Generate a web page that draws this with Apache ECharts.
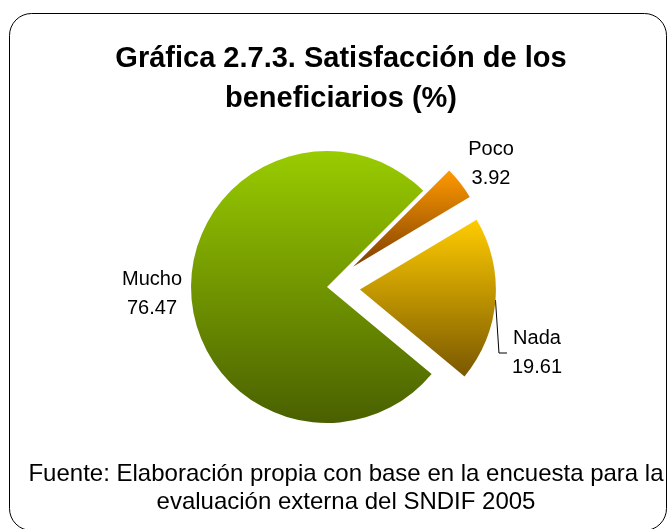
<!DOCTYPE html>
<html>
<head>
<meta charset="utf-8">
<script src="https://cdn.jsdelivr.net/npm/echarts@6/dist/echarts.min.js"></script>
<style>
  html, body { margin: 0; padding: 0; background: #fff; }
  #chart { width: 668px; height: 529px; }
</style>
</head>
<body>
<div id="chart"></div>
<script>
// datos de la gráfica
const categorias = ["Poco", "Nada", "Mucho"];
const valores = [3.92, 19.61, 76.47];
const separados = [true, true, false]; // rebanadas desplazadas

// colores degradados (arriba -> abajo)
const coloresArriba = ["#FF9900", "#FFCC00", "#99CC00"];
const coloresAbajo = ["#804000", "#7A5800", "#4A6000"];

// posición de las etiquetas (centro del texto)
const posEtiquetas = {
  Poco: [491, 164],
  Nada: [537, 353],
  Mucho: [152, 294],
};

const fuente = "'Liberation Sans', Arial, sans-serif";
const centro = [327, 287];
const radio = 136;
const anguloInicio = 45;
const desplazamiento = 33;

const chart = echarts.init(document.getElementById("chart"));

const total = valores.reduce(function (a, b) { return a + b; }, 0);

// una serie por rebanada, para poder separarla de las demás
let angulo = anguloInicio;
const series = categorias.map(function (nombre, i) {
  const arco = (valores[i] / total) * 360;
  const medio = ((angulo - arco / 2) * Math.PI) / 180;
  angulo -= arco;
  const d = separados[i] ? desplazamiento : 0;
  return {
    type: "pie",
    name: nombre,
    center: [centro[0] + d * Math.cos(medio), centro[1] - d * Math.sin(medio)],
    radius: radio,
    startAngle: anguloInicio,
    clockwise: true,
    emphasis: { disabled: true },
    label: {
      position: "outside",
      formatter: "{b}\n{c}",
      fontFamily: fuente,
      fontSize: 20,
      lineHeight: 29,
      color: "#000",
      align: "center",
    },
    labelLine: { length: 10, length2: 0, lineStyle: { color: "#000", width: 1 } },
    labelLayout: function (params) {
      const p = posEtiquetas[nombre];
      const out = { x: p[0], y: p[1], align: "center", verticalAlign: "middle" };
      if (nombre === "Nada" && params.labelLinePoints) {
        const anc = params.labelLinePoints[0];
        const izq = p[0] - params.labelRect.width / 2;
        out.labelLinePoints = [
          [anc[0], anc[1]],
          [izq - 13, p[1]],
          [izq - 5, p[1]],
        ];
      }
      return out;
    },
    data: categorias.map(function (c, j) {
      const visible = j === i;
      return {
        name: c,
        value: valores[j],
        silent: !visible,
        label: { show: visible },
        labelLine: { show: visible && c === "Nada" },
        itemStyle: {
          color: visible
            ? new echarts.graphic.LinearGradient(0, 0, 0, 1, [
                { offset: 0, color: coloresArriba[j] },
                { offset: 1, color: coloresAbajo[j] },
              ])
            : "rgba(0,0,0,0)",
        },
      };
    }),
  };
});

chart.setOption({
  animation: false,
  graphic: [
    {
      type: "rect",
      shape: { x: 9.5, y: 13.5, width: 657, height: 517, r: 22 },
      style: { fill: "none", stroke: "#000", lineWidth: 1 },
      silent: true,
    },
  ],
  title: [
    {
      text: "Gráfica 2.7.3. Satisfacción de los\nbeneficiarios (%)",
      left: 336,
      textAlign: "center",
      top: 34,
      textStyle: {
        fontFamily: fuente,
        fontSize: 29,
        fontWeight: "bold",
        lineHeight: 40,
        color: "#000",
      },
    },
    {
      text: "Fuente: Elaboración propia con base en la encuesta para la\nevaluación externa del SNDIF 2005",
      left: 341,
      textAlign: "center",
      top: 455,
      textStyle: {
        fontFamily: fuente,
        fontSize: 24,
        fontWeight: "normal",
        lineHeight: 28,
        color: "#000",
      },
    },
  ],
  series: series,
});
</script>
</body>
</html>
